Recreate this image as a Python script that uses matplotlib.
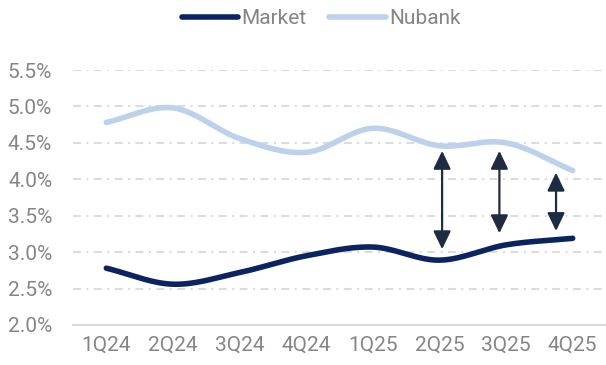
import matplotlib.pyplot as plt
import numpy as np

plt.rcParams['font.family'] = ['Roboto', 'DejaVu Sans']

quarters = ['1Q24', '2Q24', '3Q24', '4Q24', '1Q25', '2Q25', '3Q25', '4Q25']
market = [2.78, 2.56, 2.72, 2.95, 3.07, 2.89, 3.10, 3.19]
nubank = [4.78, 4.98, 4.56, 4.37, 4.70, 4.46, 4.50, 4.12]

# gap arrows: (x position, bottom, top)
arrow_x = [5.04, 5.90, 6.75]
arrow_lo = [3.04, 3.26, 3.29]
arrow_hi = [4.39, 4.39, 4.09]

yticks = [2.0, 2.5, 3.0, 3.5, 4.0, 4.5, 5.0, 5.5]


def smooth(y, n=30):
    # catmull-rom through the points
    y = np.asarray(y, dtype=float)
    p = np.concatenate([[2 * y[0] - y[1]], y, [2 * y[-1] - y[-2]]])
    xs, ys = [], []
    t = np.linspace(0, 1, n, endpoint=False)
    for i in range(1, len(p) - 2):
        p0, p1, p2, p3 = p[i - 1], p[i], p[i + 1], p[i + 2]
        seg = 0.5 * ((2 * p1) + (-p0 + p2) * t + (2 * p0 - 5 * p1 + 4 * p2 - p3) * t ** 2
                     + (-p0 + 3 * p1 - 3 * p2 + p3) * t ** 3)
        xs.append(i - 1 + t)
        ys.append(seg)
    xs.append([len(y) - 1])
    ys.append([y[-1]])
    return np.concatenate(xs), np.concatenate(ys)


fig = plt.figure(figsize=(6.06, 3.65), dpi=100)
ax = fig.add_axes([73 / 606, 1 - 325 / 365, 1 - 73 / 606, 255 / 365])

x, y = smooth(market)
ax.plot(x, y, color='#0b2361', lw=4.0, solid_capstyle='round', label='Market', zorder=3)
x, y = smooth(nubank)
ax.plot(x, y, color='#bcd2ec', lw=4.0, solid_capstyle='round', label='Nubank', zorder=3)

for xa, lo, hi in zip(arrow_x, arrow_lo, arrow_hi):
    ax.annotate('', xy=(xa, hi), xytext=(xa, lo),
                arrowprops=dict(arrowstyle='<|-|>,head_length=1.1,head_width=0.53',
                                color='#1e2b42', lw=1.6, shrinkA=0, shrinkB=0),
                zorder=4)

ax.set_xlim(-0.5, 7.5)
ax.set_ylim(2.0, 5.5)
ax.set_xticks(range(len(quarters)))
ax.set_xticklabels(quarters)
ax.set_yticks(yticks)
ax.set_yticklabels(['%.1f%%' % v for v in yticks])
ax.tick_params(length=0, labelsize=15, colors='#858585')
ax.tick_params(axis='x', pad=8)
ax.tick_params(axis='y', pad=15)

for v in yticks[1:]:
    ax.axhline(v, color='#dcdcdc', lw=1.5, linestyle=(0, (3.8, 2.6, 1, 2.6)), zorder=1)
for s in ['top', 'right', 'left']:
    ax.spines[s].set_visible(False)
ax.spines['bottom'].set_color('#d9d9d9')
ax.spines['bottom'].set_linewidth(1.5)

fig.legend(loc='center', bbox_to_anchor=(0.53, 0.948), ncol=2, frameon=False,
           fontsize=15, handlelength=2.7, handletextpad=0.15, columnspacing=1.1,
           labelcolor='#858585')

fig.savefig('out.png', dpi=100)
